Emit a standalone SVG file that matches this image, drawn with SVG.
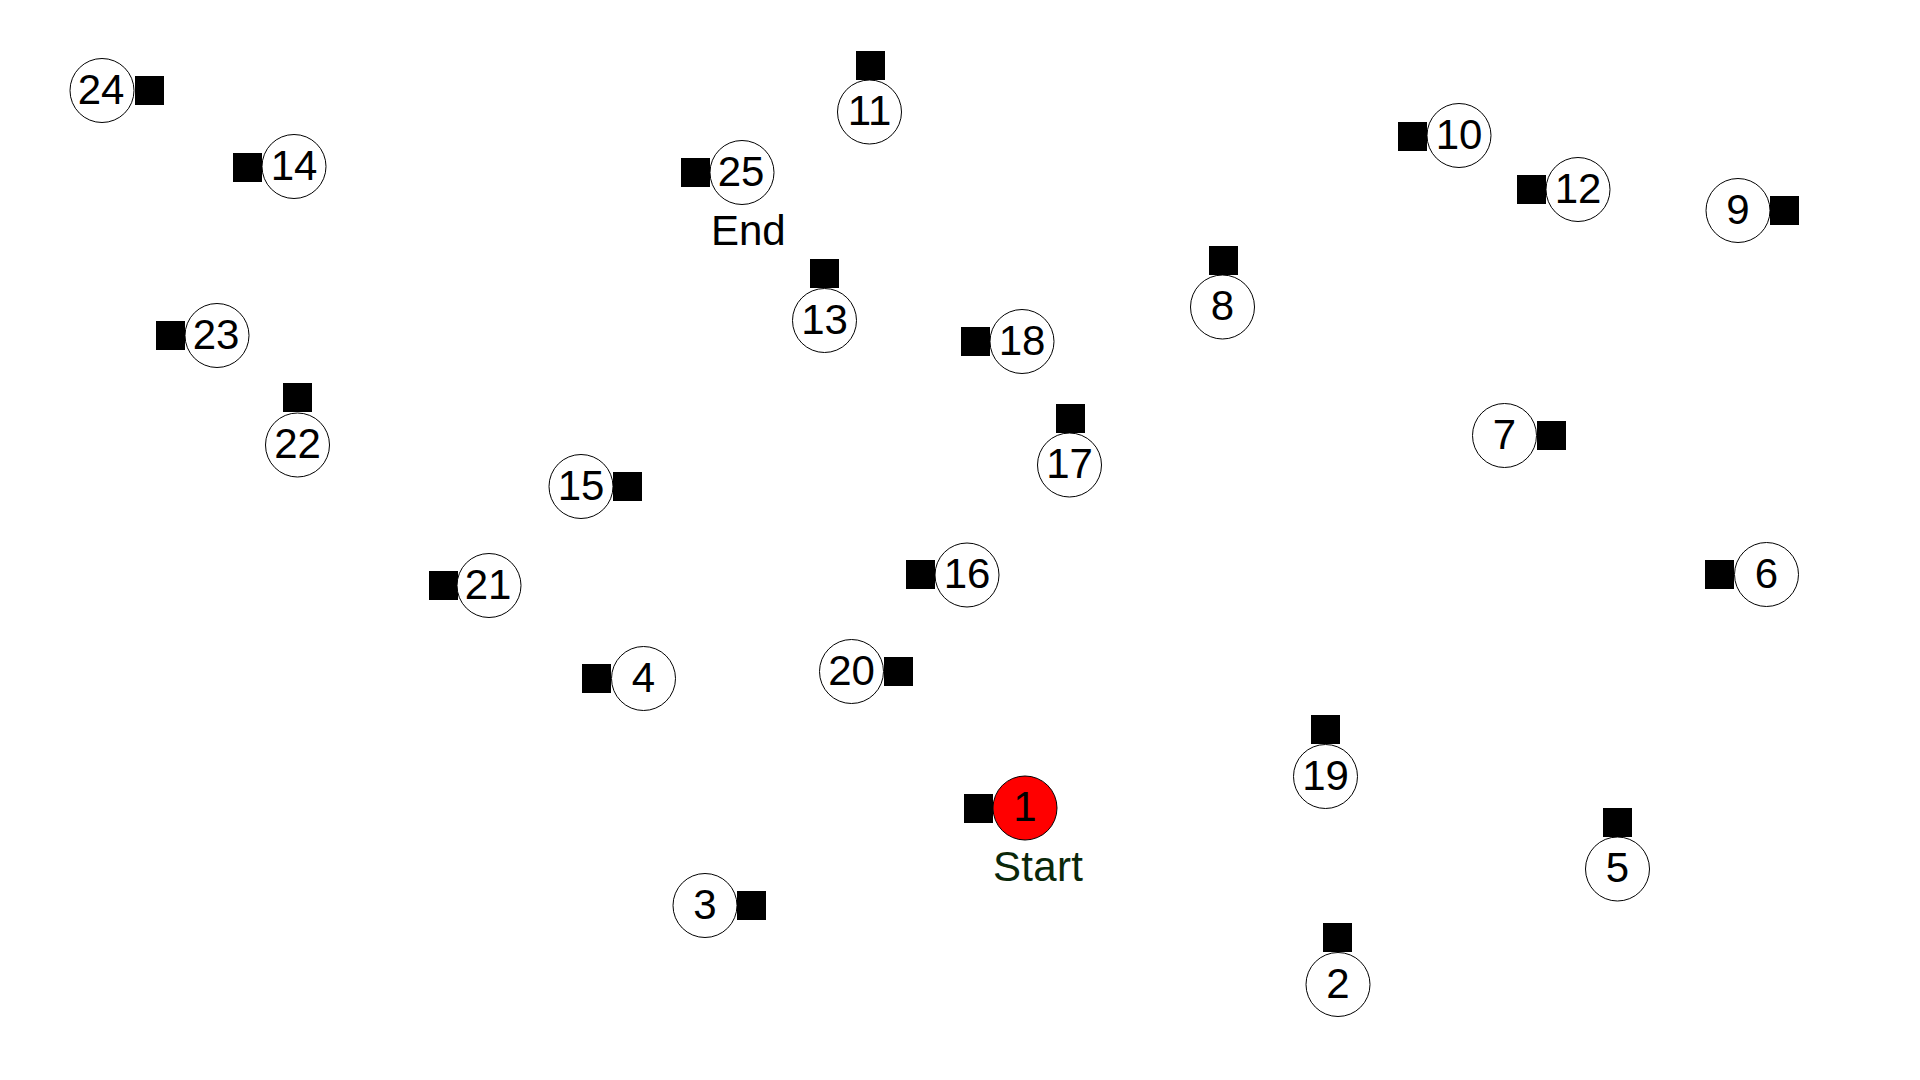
<svg xmlns="http://www.w3.org/2000/svg" width="1920" height="1080" viewBox="0 0 1920 1080">
<style>
.c{fill:#fff;stroke:#000;stroke-width:1}
.s{fill:#ff0000;stroke:#000;stroke-width:1}
.q{fill:#000}
.t{font-family:"Liberation Sans",Arial,sans-serif;font-size:42px;fill:#000;text-anchor:middle}
.l{font-family:"Liberation Sans",Arial,sans-serif;font-size:42px;fill:#000}
.g{fill:#0a280a}
</style>
<rect width="1920" height="1080" fill="#fff"/>
<g id="connectors"/>
<g id="node1"><rect class="q" x="964" y="794" width="29" height="29"/><circle class="s" cx="1025" cy="808" r="32"/><text class="t" x="1025" y="821">1</text><text class="l g" x="993" y="881" textLength="90">Start</text></g>
<g id="node2"><rect class="q" x="1323" y="923" width="29" height="29"/><circle class="c" cx="1338" cy="984.5" r="32"/><text class="t" x="1338" y="997.5">2</text></g>
<g id="node3"><rect class="q" x="737" y="891" width="29" height="29"/><circle class="c" cx="705" cy="905.5" r="32"/><text class="t" x="705" y="918.5">3</text></g>
<g id="node4"><rect class="q" x="582" y="664" width="29" height="29"/><circle class="c" cx="643.5" cy="678.5" r="32"/><text class="t" x="643.5" y="691.5">4</text></g>
<g id="node5"><rect class="q" x="1603" y="808" width="29" height="29"/><circle class="c" cx="1617.5" cy="869" r="32"/><text class="t" x="1617.5" y="882">5</text></g>
<g id="node6"><rect class="q" x="1705" y="560" width="29" height="29"/><circle class="c" cx="1766.5" cy="574.5" r="32"/><text class="t" x="1766.5" y="587.5">6</text></g>
<g id="node7"><rect class="q" x="1537" y="421" width="29" height="29"/><circle class="c" cx="1504.5" cy="435.5" r="32"/><text class="t" x="1504.5" y="448.5">7</text></g>
<g id="node8"><rect class="q" x="1209" y="246" width="29" height="29"/><circle class="c" cx="1222.5" cy="307" r="32"/><text class="t" x="1222.5" y="320">8</text></g>
<g id="node9"><rect class="q" x="1770" y="196" width="29" height="29"/><circle class="c" cx="1738" cy="210.5" r="32"/><text class="t" x="1738" y="223.5">9</text></g>
<g id="node10"><rect class="q" x="1398" y="122" width="29" height="29"/><circle class="c" cx="1459" cy="135.5" r="32"/><text class="t" x="1459" y="148.5">10</text></g>
<g id="node11"><rect class="q" x="856" y="51" width="29" height="29"/><circle class="c" cx="869.5" cy="112" r="32"/><text class="t" x="869.5" y="125">11</text></g>
<g id="node12"><rect class="q" x="1517" y="175" width="29" height="29"/><circle class="c" cx="1578" cy="189.5" r="32"/><text class="t" x="1578" y="202.5">12</text></g>
<g id="node13"><rect class="q" x="810" y="259" width="29" height="29"/><circle class="c" cx="824.5" cy="320.5" r="32"/><text class="t" x="824.5" y="333.5">13</text></g>
<g id="node14"><rect class="q" x="233" y="153" width="29" height="29"/><circle class="c" cx="294" cy="166.5" r="32"/><text class="t" x="294" y="179.5">14</text></g>
<g id="node15"><rect class="q" x="613" y="472" width="29" height="29"/><circle class="c" cx="581" cy="486.5" r="32"/><text class="t" x="581" y="499.5">15</text></g>
<g id="node16"><rect class="q" x="906" y="560" width="29" height="29"/><circle class="c" cx="967" cy="575" r="32"/><text class="t" x="967" y="588">16</text></g>
<g id="node17"><rect class="q" x="1056" y="404" width="29" height="29"/><circle class="c" cx="1069.5" cy="465" r="32"/><text class="t" x="1069.5" y="478">17</text></g>
<g id="node18"><rect class="q" x="961" y="327" width="29" height="29"/><circle class="c" cx="1022" cy="341.5" r="32"/><text class="t" x="1022" y="354.5">18</text></g>
<g id="node19"><rect class="q" x="1311" y="715" width="29" height="29"/><circle class="c" cx="1325.5" cy="776.5" r="32"/><text class="t" x="1325.5" y="789.5">19</text></g>
<g id="node20"><rect class="q" x="884" y="657" width="29" height="29"/><circle class="c" cx="851.5" cy="671.5" r="32"/><text class="t" x="851.5" y="684.5">20</text></g>
<g id="node21"><rect class="q" x="429" y="571" width="29" height="29"/><circle class="c" cx="489" cy="585.5" r="32"/><text class="t" x="488" y="598.5">21</text></g>
<g id="node22"><rect class="q" x="283" y="383" width="29" height="29"/><circle class="c" cx="297.5" cy="445" r="32"/><text class="t" x="297.5" y="458">22</text></g>
<g id="node23"><rect class="q" x="156" y="321" width="29" height="29"/><circle class="c" cx="217" cy="335.5" r="32"/><text class="t" x="216" y="348.5">23</text></g>
<g id="node24"><rect class="q" x="135" y="76" width="29" height="29"/><circle class="c" cx="102" cy="90.5" r="32"/><text class="t" x="101" y="103.5">24</text></g>
<g id="node25"><rect class="q" x="681" y="158" width="29" height="29"/><circle class="c" cx="742" cy="172.5" r="32"/><text class="t" x="741" y="185.5">25</text><text class="l" x="711" y="245">End</text></g>
</svg>
